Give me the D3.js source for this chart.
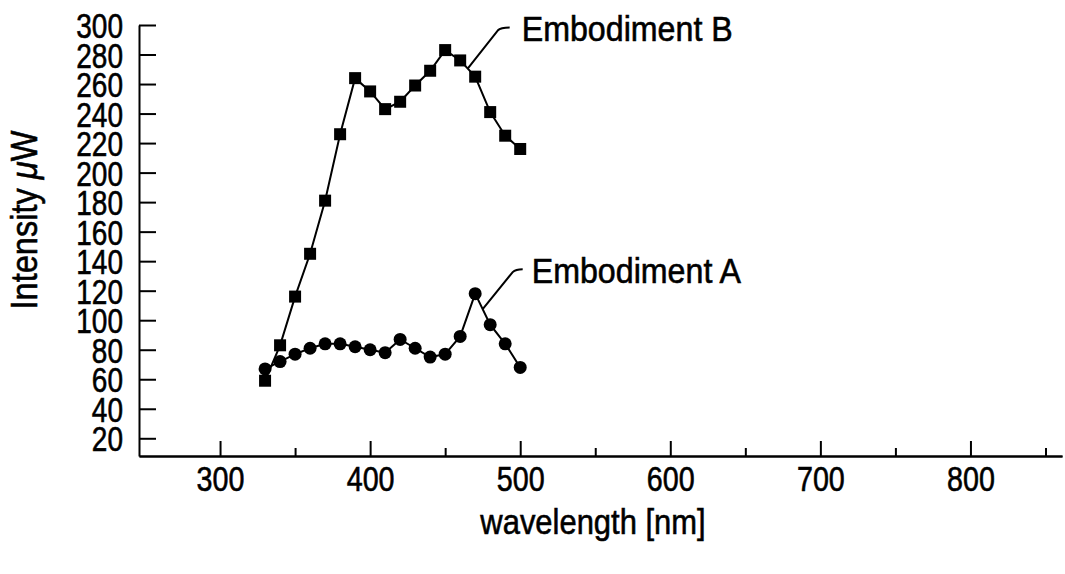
<!DOCTYPE html>
<head>
  <meta charset="utf-8">
  <script src="https://d3js.org/d3.v7.min.js"></script>
  <style>
    body { margin: 0; background: #fff; }
    text { font-family: "Liberation Sans", Arial, sans-serif; fill: #000; stroke: #000; stroke-width: 0.6; }
    .axis path, .axis line { stroke: #000; stroke-width: 2; }
    .axis text { font-family: "Liberation Sans", Arial, sans-serif; }
  </style>
</head>
<body>
  <div id="graph"></div>
  <script>
    var width = 1065;
    var height = 574;

    // data
    var wavelengths = [330, 340, 350, 360, 370, 380, 390, 400, 410, 420, 430, 440, 450, 460, 470, 480, 490, 500];
    var embodimentA = [67, 72, 77, 81, 84, 84, 82, 80, 78, 87, 81, 75, 77, 89, 118, 97, 84, 68];
    var embodimentB = [59, 83, 116, 145, 181, 226, 264, 255, 243, 248, 259, 269, 283, 276, 265, 241, 225, 216];
    var yTicks = [20, 40, 60, 80, 100, 120, 140, 160, 180, 200, 220, 240, 260, 280, 300];
    var xMajor = [300, 400, 500, 600, 700, 800];
    var xMinor = [350, 450, 550, 650, 750, 850];

    var svg = d3.select("#graph").append("svg")
      .attr("width", width)
      .attr("height", height);

    var x = d3.scaleLinear().domain([246, 861]).range([139, 1062]);
    var y = d3.scaleLinear().domain([8, 300]).range([456, 25]);

    // the original uses a condensed face, so squeeze the glyphs sideways
    function squeeze(sel, sx) {
      sel.each(function() {
        var t = d3.select(this);
        var xx = +t.attr("x") || 0;
        var yy = +t.attr("y") || 0;
        t.attr("transform", "translate(" + xx + "," + yy + ") scale(" + sx + ",1)")
          .attr("x", 0).attr("y", 0);
      });
    }

    // y axis, ticks point inside
    var gy = svg.append("g")
      .attr("class", "axis")
      .attr("transform", "translate(" + x(246) + ",0)")
      .call(d3.axisLeft(y).tickValues(yTicks).tickSizeInner(-17).tickSizeOuter(0).tickPadding(16));
    gy.selectAll("text").attr("dy", "0.36em").attr("font-size", 35);
    squeeze(gy.selectAll("text"), 0.8);

    // x axis, long ticks at hundreds, short in between
    var gx = svg.append("g")
      .attr("class", "axis")
      .attr("transform", "translate(0," + y(8) + ")")
      .call(d3.axisBottom(x).tickValues(xMajor).tickSizeInner(-15).tickSizeOuter(0).tickPadding(10));
    gx.selectAll("text").attr("font-size", 35);
    squeeze(gx.selectAll("text"), 0.82);
    svg.append("g")
      .attr("class", "axis")
      .attr("transform", "translate(0," + y(8) + ")")
      .call(d3.axisBottom(x).tickValues(xMinor).tickSizeInner(-8).tickSizeOuter(0).tickFormat(""));

    // axis titles
    svg.append("text")
      .attr("x", 593)
      .attr("y", 534)
      .attr("text-anchor", "middle")
      .attr("font-size", 36)
      .text("wavelength [nm]")
      .call(squeeze, 0.86);

    var yt = svg.append("text")
      .attr("transform", "translate(37,220) rotate(-90) scale(0.88,1)")
      .attr("text-anchor", "middle")
      .attr("font-size", 37);
    yt.append("tspan").text("Intensity ");
    yt.append("tspan").attr("font-style", "italic").text("\u03bc");
    yt.append("tspan").text("W");

    var line = d3.line()
      .x(function(d, i) { return x(wavelengths[i]); })
      .y(function(d) { return y(d); });

    // Embodiment B - squares
    svg.append("path")
      .datum(embodimentB)
      .attr("d", line)
      .attr("fill", "none")
      .attr("stroke", "#000")
      .attr("stroke-width", 2);
    svg.selectAll(".sq").data(embodimentB).enter()
      .append("rect")
      .attr("class", "sq")
      .attr("x", function(d, i) { return x(wavelengths[i]) - 6; })
      .attr("y", function(d) { return y(d) - 6; })
      .attr("width", 12)
      .attr("height", 12)
      .attr("fill", "#000");

    // Embodiment A - circles
    svg.append("path")
      .datum(embodimentA)
      .attr("d", line)
      .attr("fill", "none")
      .attr("stroke", "#000")
      .attr("stroke-width", 2);
    svg.selectAll(".dot").data(embodimentA).enter()
      .append("circle")
      .attr("class", "dot")
      .attr("cx", function(d, i) { return x(wavelengths[i]); })
      .attr("cy", function(d) { return y(d); })
      .attr("r", 6.5)
      .attr("fill", "#000");

    // leader labels, anchored mid-segment
    var labels = [
      { name: "Embodiment B", values: embodimentB, seg: 13, dx: 30, dy: -38, tail: 12, gap: 12, base: 10 },
      { name: "Embodiment A", values: embodimentA, seg: 14, dx: 30, dy: -37, tail: 10, gap: 9, base: 11 }
    ];
    labels.forEach(function(l) {
      var x0 = (x(wavelengths[l.seg]) + x(wavelengths[l.seg + 1])) / 2;
      var y0 = (y(l.values[l.seg]) + y(l.values[l.seg + 1])) / 2;
      svg.append("path")
        .attr("d", "M" + x0 + "," + y0 + "L" + (x0 + l.dx) + "," + (y0 + l.dy) + "Q" + (x0 + l.dx + 3) + "," + (y0 + l.dy - 3) + " " + (x0 + l.dx + l.tail) + "," + (y0 + l.dy - 3))
        .attr("fill", "none")
        .attr("stroke", "#000")
        .attr("stroke-width", 2);
      svg.append("text")
        .attr("x", x0 + l.dx + l.tail + l.gap)
        .attr("y", y0 + l.dy + l.base)
        .attr("font-size", 35)
        .text(l.name)
        .call(squeeze, 0.92);
    });
  </script>
</body>
